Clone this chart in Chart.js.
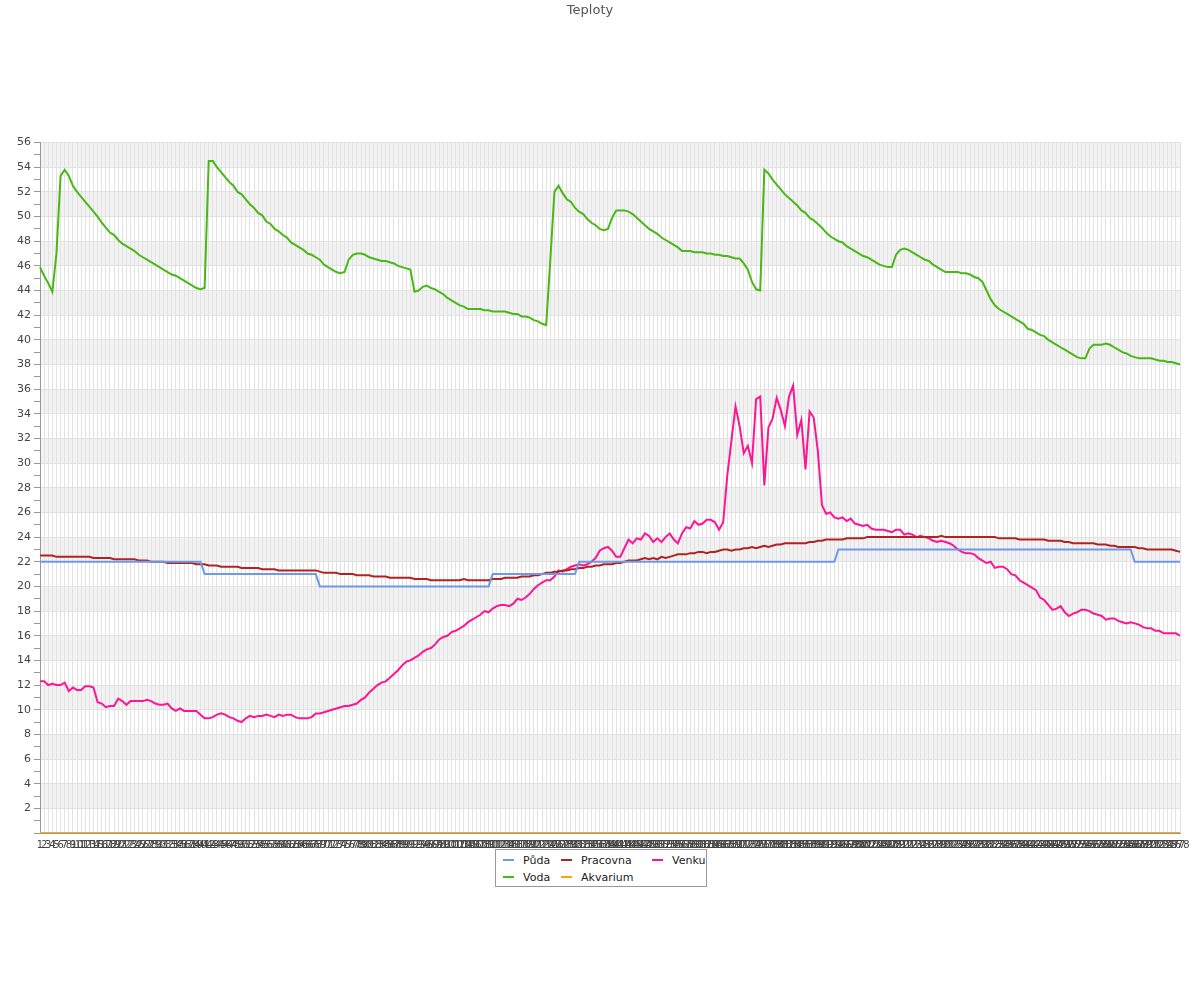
<!DOCTYPE html>
<html>
<head>
<meta charset="utf-8">
<script src="https://cdn.jsdelivr.net/npm/chart.js@4/dist/chart.umd.min.js"></script>
<style>
html,body{margin:0;padding:0;background:#fff;}
#wrap{position:relative;width:1200px;height:1000px;}
#legend{position:absolute;left:495px;top:849px;width:212px;height:38px;border:1px solid #999;box-sizing:border-box;font-family:"DejaVu Sans",sans-serif;font-size:11px;color:#222;background:#fff;}
.item{position:absolute;white-space:nowrap;line-height:14px;height:14px;}
.sw{display:inline-block;width:11px;height:2px;vertical-align:middle;margin-right:9px;position:relative;top:-1px;}
</style>
</head>
<body>
<div id="wrap">
<canvas id="c" width="1200" height="1000"></canvas>
<div id="legend"></div>
</div>
<script>
const labels = [1,2,3,4,5,6,7,8,9,10,11,12,13,14,15,16,17,18,19,20,
21,22,23,24,25,26,27,28,29,30,31,32,33,34,35,36,37,38,39,40,
41,42,43,44,45,46,47,48,49,50,51,52,53,54,55,56,57,58,59,60,
61,62,63,64,65,66,67,68,69,70,71,72,73,74,75,76,77,78,79,80,
81,82,83,84,85,86,87,88,89,90,91,92,93,94,95,96,97,98,99,100,
101,102,103,104,105,106,107,108,109,110,111,112,113,114,115,116,117,118,119,120,
121,122,123,124,125,126,127,128,129,130,131,132,133,134,135,136,137,138,139,140,
141,142,143,144,145,146,147,148,149,150,151,152,153,154,155,156,157,158,159,160,
161,162,163,164,165,166,167,168,169,170,171,172,173,174,175,176,177,178,179,180,
181,182,183,184,185,186,187,188,189,190,191,192,193,194,195,196,197,198,199,200,
201,202,203,204,205,206,207,208,209,210,211,212,213,214,215,216,217,218,219,220,
221,222,223,224,225,226,227,228,229,230,231,232,233,234,235,236,237,238,239,240,
241,242,243,244,245,246,247,248,249,250,251,252,253,254,255,256,257,258,259,260,
261,262,263,264,265,266,267,268,269,270,271,272,273,274,275,276,277,278];

const puda = [
22,22,22,22,22,22,22,22,22,22, 22,22,22,22,22,22,22,22,22,22,
22,22,22,22,22,22,22,22,22,22, 22,22,22,22,22,22,22,22,22,22,
21,21,21,21,21,21,21,21,21,21, 21,21,21,21,21,21,21,21,21,21,
21,21,21,21,21,21,21,21,20,20, 20,20,20,20,20,20,20,20,20,20,
20,20,20,20,20,20,20,20,20,20, 20,20,20,20,20,20,20,20,20,20,
20,20,20,20,20,20,20,20,20,20, 21,21,21,21,21,21,21,21,21,21,
21,21,21,21,21,21,21,21,21,21, 21,22,22,22,22,22,22,22,22,22,
22,22,22,22,22,22,22,22,22,22, 22,22,22,22,22,22,22,22,22,22,
22,22,22,22,22,22,22,22,22,22, 22,22,22,22,22,22,22,22,22,22,
22,22,22,22,22,22,22,22,22,22, 22,22,22,22,23,23,23,23,23,23,
23,23,23,23,23,23,23,23,23,23, 23,23,23,23,23,23,23,23,23,23,
23,23,23,23,23,23,23,23,23,23, 23,23,23,23,23,23,23,23,23,23,
23,23,23,23,23,23,23,23,23,23, 23,23,23,23,23,23,23,23,23,23,
23,23,23,23,23,23,22,22,22,22, 22,22,22,22,22,22,22,22];

const pracovna = [
22.5,22.5,22.5,22.5,22.4,22.4,22.4,22.4,22.4,22.4,
22.4,22.4,22.4,22.3,22.3,22.3,22.3,22.3,22.2,22.2,
22.2,22.2,22.2,22.2,22.1,22.1,22.1,22.0,22.0,22.0,
22.0,21.9,21.9,21.9,21.9,21.9,21.9,21.9,21.8,21.8,
21.8,21.7,21.7,21.7,21.6,21.6,21.6,21.6,21.6,21.5,
21.5,21.5,21.5,21.5,21.4,21.4,21.4,21.4,21.3,21.3,
21.3,21.3,21.3,21.3,21.3,21.3,21.3,21.3,21.2,21.1,
21.1,21.1,21.1,21.0,21.0,21.0,21.0,20.9,20.9,20.9,
20.9,20.8,20.8,20.8,20.8,20.7,20.7,20.7,20.7,20.7,
20.7,20.6,20.6,20.6,20.6,20.5,20.5,20.5,20.5,20.5,
20.5,20.5,20.5,20.6,20.5,20.5,20.5,20.5,20.5,20.5,
20.6,20.6,20.6,20.7,20.7,20.7,20.7,20.8,20.8,20.8,
20.9,20.9,21.0,21.1,21.1,21.2,21.2,21.3,21.3,21.4,
21.4,21.5,21.5,21.6,21.6,21.7,21.7,21.8,21.8,21.8,
21.9,21.9,22.0,22.1,22.1,22.1,22.2,22.3,22.2,22.3,
22.2,22.4,22.3,22.4,22.5,22.6,22.6,22.6,22.7,22.7,
22.8,22.8,22.7,22.8,22.8,22.9,23.0,23.0,22.9,23.0,
23.0,23.1,23.1,23.2,23.1,23.2,23.3,23.2,23.3,23.4,
23.4,23.5,23.5,23.5,23.5,23.5,23.5,23.6,23.6,23.7,
23.7,23.8,23.8,23.8,23.8,23.8,23.9,23.9,23.9,23.9,
23.9,24.0,24.0,24.0,24.0,24.0,24.0,24.0,24.0,24.0,
24.0,24.0,24.0,24.0,24.0,24.0,24.0,24.0,24.0,24.1,
24.0,24.0,24.0,24.0,24.0,24.0,24.0,24.0,24.0,24.0,
24.0,24.0,24.0,23.9,23.9,23.9,23.9,23.9,23.8,23.8,
23.8,23.8,23.8,23.8,23.8,23.7,23.7,23.7,23.7,23.6,
23.6,23.5,23.5,23.5,23.5,23.5,23.5,23.4,23.4,23.4,
23.3,23.3,23.2,23.2,23.2,23.2,23.2,23.1,23.1,23.0,
23.0,23.0,23.0,23.0,23.0,23.0,22.9,22.8];

const venku = [
12.3,12.3,12.0,12.1,12.0,12.0,12.2,11.5,11.8,11.6,
11.6,11.9,11.9,11.8,10.6,10.5,10.2,10.3,10.3,10.9,
10.7,10.4,10.7,10.7,10.7,10.7,10.8,10.7,10.5,10.4,
10.4,10.5,10.1,9.9,10.1,9.9,9.9,9.9,9.9,9.6,
9.3,9.3,9.4,9.6,9.7,9.6,9.4,9.3,9.1,9.0,
9.3,9.5,9.4,9.5,9.5,9.6,9.5,9.4,9.6,9.5,
9.6,9.6,9.4,9.3,9.3,9.3,9.4,9.7,9.7,9.8,
9.9,10.0,10.1,10.2,10.3,10.3,10.4,10.5,10.8,11.0,
11.4,11.7,12.0,12.2,12.3,12.6,12.9,13.2,13.6,13.9,
14.0,14.2,14.4,14.7,14.9,15.0,15.3,15.7,15.9,16.0,
16.3,16.4,16.6,16.8,17.1,17.3,17.5,17.7,18.0,17.9,
18.2,18.4,18.5,18.5,18.4,18.6,19.0,18.9,19.1,19.4,
19.8,20.1,20.3,20.5,20.5,20.8,21.3,21.2,21.4,21.6,
21.7,21.8,21.7,21.8,22.0,22.3,22.9,23.1,23.2,22.9,
22.4,22.4,23.1,23.8,23.5,23.9,23.8,24.3,24.1,23.6,
23.9,23.6,24.0,24.3,23.8,23.5,24.3,24.8,24.7,25.3,
25.0,25.1,25.4,25.4,25.2,24.6,25.2,29.0,31.8,34.6,
33.0,30.8,31.4,30.0,35.2,35.4,28.2,32.9,33.6,35.3,
34.3,33.0,35.4,36.3,32.3,33.5,29.5,34.2,33.7,31.0,
26.6,25.9,26.0,25.6,25.5,25.6,25.3,25.5,25.1,25.0,
24.9,25.0,24.7,24.6,24.6,24.6,24.5,24.4,24.6,24.6,
24.2,24.3,24.2,24.0,24.1,24.0,23.9,23.7,23.6,23.7,
23.6,23.5,23.3,23.0,22.8,22.7,22.7,22.6,22.3,22.1,
21.9,22.0,21.5,21.6,21.6,21.4,21.0,20.9,20.5,20.3,
20.1,19.9,19.7,19.1,18.9,18.5,18.1,18.2,18.4,17.9,
17.6,17.8,17.9,18.1,18.1,18.0,17.8,17.7,17.6,17.3,
17.4,17.4,17.2,17.1,17.0,17.1,17.0,16.9,16.7,16.6,
16.6,16.4,16.4,16.2,16.2,16.2,16.2,16.0];

const voda = [
45.9,45.2,44.6,43.9,47.0,53.3,53.8,53.3,52.5,52.0,
51.6,51.2,50.8,50.4,50.0,49.5,49.1,48.7,48.5,48.1,
47.8,47.6,47.4,47.2,46.9,46.7,46.5,46.3,46.1,45.9,
45.7,45.5,45.3,45.2,45.0,44.8,44.6,44.4,44.2,44.1,
44.2,54.5,54.5,54.0,53.6,53.2,52.8,52.5,52.0,51.8,
51.4,51.0,50.7,50.3,50.1,49.6,49.4,49.0,48.8,48.5,
48.3,47.9,47.7,47.5,47.3,47.0,46.9,46.7,46.5,46.1,
45.9,45.7,45.5,45.4,45.5,46.5,46.9,47.0,47.0,46.9,
46.7,46.6,46.5,46.4,46.4,46.3,46.2,46.0,45.9,45.8,
45.7,43.9,44.0,44.3,44.4,44.2,44.1,43.9,43.7,43.4,
43.2,43.0,42.8,42.7,42.5,42.5,42.5,42.5,42.4,42.4,
42.3,42.3,42.3,42.3,42.2,42.1,42.1,41.9,41.9,41.8,
41.6,41.5,41.3,41.2,46.5,52.0,52.5,51.9,51.4,51.2,
50.7,50.4,50.2,49.8,49.5,49.3,49.0,48.9,49.0,49.9,
50.5,50.5,50.5,50.4,50.2,49.9,49.6,49.3,49.0,48.8,
48.6,48.3,48.1,47.9,47.7,47.5,47.2,47.2,47.2,47.1,
47.1,47.1,47.0,47.0,46.9,46.9,46.8,46.8,46.7,46.6,
46.6,46.2,45.7,44.7,44.1,44.0,53.8,53.5,53.0,52.6,
52.2,51.8,51.5,51.2,50.9,50.5,50.3,49.9,49.7,49.4,
49.1,48.7,48.4,48.2,48.0,47.9,47.6,47.4,47.2,47.0,
46.8,46.7,46.5,46.3,46.1,46.0,45.9,45.9,46.9,47.3,
47.4,47.3,47.1,46.9,46.7,46.5,46.4,46.1,45.9,45.7,
45.5,45.5,45.5,45.5,45.4,45.4,45.3,45.1,45.0,44.7,
44.0,43.3,42.8,42.5,42.3,42.1,41.9,41.7,41.5,41.3,
40.9,40.8,40.6,40.4,40.3,40.0,39.8,39.6,39.4,39.2,
39.0,38.8,38.6,38.5,38.5,39.3,39.6,39.6,39.6,39.7,
39.6,39.4,39.2,39.0,38.9,38.7,38.6,38.5,38.5,38.5,
38.5,38.4,38.3,38.3,38.2,38.2,38.1,38.0];

const akvarium = [
0,0,0,0,0,0,0,0,0,0, 0,0,0,0,0,0,0,0,0,0,
0,0,0,0,0,0,0,0,0,0, 0,0,0,0,0,0,0,0,0,0,
0,0,0,0,0,0,0,0,0,0, 0,0,0,0,0,0,0,0,0,0,
0,0,0,0,0,0,0,0,0,0, 0,0,0,0,0,0,0,0,0,0,
0,0,0,0,0,0,0,0,0,0, 0,0,0,0,0,0,0,0,0,0,
0,0,0,0,0,0,0,0,0,0, 0,0,0,0,0,0,0,0,0,0,
0,0,0,0,0,0,0,0,0,0, 0,0,0,0,0,0,0,0,0,0,
0,0,0,0,0,0,0,0,0,0, 0,0,0,0,0,0,0,0,0,0,
0,0,0,0,0,0,0,0,0,0, 0,0,0,0,0,0,0,0,0,0,
0,0,0,0,0,0,0,0,0,0, 0,0,0,0,0,0,0,0,0,0,
0,0,0,0,0,0,0,0,0,0, 0,0,0,0,0,0,0,0,0,0,
0,0,0,0,0,0,0,0,0,0, 0,0,0,0,0,0,0,0,0,0,
0,0,0,0,0,0,0,0,0,0, 0,0,0,0,0,0,0,0,0,0,
0,0,0,0,0,0,0,0,0,0, 0,0,0,0,0,0,0,0];

const seriesNames = ['Půda','Pracovna','Venku','Voda','Akvarium'];
const seriesColors = ['#6d9ae8','#b22222','#ff1493','#48b814','#ffa500'];
const seriesData = [puda, pracovna, venku, voda, akvarium];

const bandPlugin = {
  id: 'bands',
  beforeDraw(chart) {
    const {ctx, chartArea: a, scales: {y}} = chart;
    ctx.save();
    ctx.fillStyle = '#ffffff';
    ctx.fillRect(0, 0, chart.width, chart.height);
    ctx.fillStyle = '#f2f2f2';
    for (let v = 2; v < y.max; v += 4) {
      const top = y.getPixelForValue(v + 2);
      const bot = y.getPixelForValue(v);
      ctx.fillRect(a.left, top, a.right - a.left, bot - top);
    }
    ctx.restore();
  }
};

const chart = new Chart(document.getElementById('c'), {
  type: 'line',
  data: {
    labels: labels.map(String),
    datasets: seriesNames.map((n, i) => ({
      label: n,
      data: seriesData[i],
      borderColor: seriesColors[i],
      backgroundColor: seriesColors[i],
      borderWidth: 2,
      pointRadius: 0,
      tension: 0,
      fill: false
    }))
  },
  options: {
    responsive: false,
    animation: false,
    devicePixelRatio: 1,
    layout: { padding: { left: 0, right: 20, top: 0, bottom: 147 } },
    plugins: {
      legend: { display: false },
      tooltip: { enabled: false },
      title: {
        display: true,
        text: 'Teploty',
        color: '#555',
        font: { family: 'DejaVu Sans', size: 13, weight: 'normal' },
        padding: { top: 3, bottom: 124 }
      }
    },
    scales: {
      x: {
        grid: { color: '#e2e2e2', drawTicks: false },
        border: { color: '#999' },
        ticks: {
          autoSkip: false, maxRotation: 0, minRotation: 0,
          color: '#444', padding: 6,
          font: { family: 'DejaVu Sans', size: 10 }
        },
        afterFit(s) { s.height = 20; }
      },
      y: {
        min: 0, max: 56,
        grid: {
          color: c => (c.tick && c.tick.value % 2 === 0) ? '#e2e2e2' : 'rgba(0,0,0,0)',
          tickColor: '#999',
          tickLength: 6
        },
        border: { color: '#999' },
        ticks: {
          stepSize: 1, autoSkip: false, padding: 3, color: '#444',
          font: { family: 'DejaVu Sans', size: 11 },
          callback: v => (v % 2 === 0 && v !== 0) ? String(v) : ''
        },
        afterFit(s) { s.width = 40; }
      }
    }
  },
  plugins: [bandPlugin]
});

// HTML legend built from the chart's datasets
const legendPos = [[7, 4], [65, 4], [156, 4], [7, 21], [65, 21]];
const legendEl = document.getElementById('legend');
chart.data.datasets.forEach((ds, i) => {
  const it = document.createElement('div');
  it.className = 'item';
  it.style.left = legendPos[i][0] + 'px';
  it.style.top = legendPos[i][1] + 'px';
  const sw = document.createElement('span');
  sw.className = 'sw';
  sw.style.background = ds.borderColor;
  it.appendChild(sw);
  it.appendChild(document.createTextNode(ds.label));
  legendEl.appendChild(it);
});
</script>
</body>
</html>
